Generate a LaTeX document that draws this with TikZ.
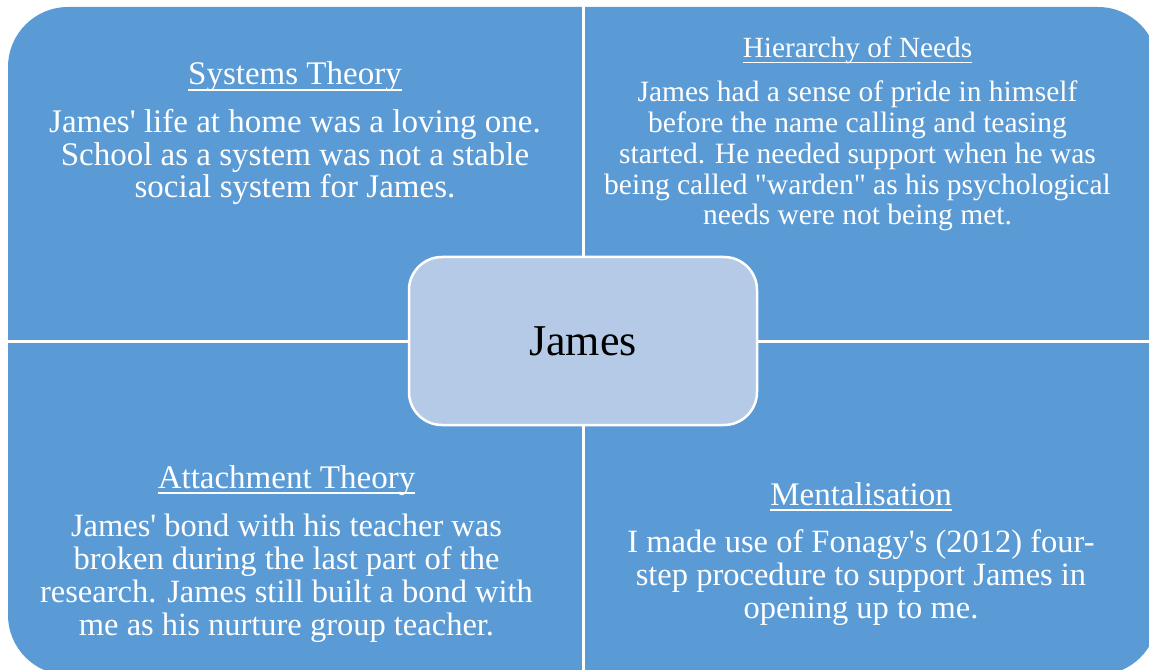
\documentclass[tikz,border=0pt]{standalone}
\usepackage{fontspec}
\setmainfont{Liberation Serif}[Ligatures=TeXOff]
\usetikzlibrary{calc}
\definecolor{tilefill}{RGB}{91,155,213}
\definecolor{hubfill}{RGB}{181,202,231}
\begin{document}
\begin{tikzpicture}[x=1bp,y=-1bp,
  heading/.style={text=white,inner sep=0pt,anchor=base,font=\fontsize{33bp}{33bp}\selectfont},
  % multi-line text is anchored at the baseline of its last line
  bodytext/.style={text=white,inner sep=0pt,anchor=base,align=center},
  rule/.style={white,line width=1.7bp},
  hub/.style={draw=white,line width=2.5bp,fill=hubfill,rounded corners=33bp,
    minimum width=348bp,minimum height=168bp,inner sep=0pt,
    font=\fontsize{44bp}{44bp}\selectfont,text=black}]
\useasboundingbox (0,0) rectangle (1149,670);
\clip (0,0) rectangle (1149,670);

% four-part matrix: one rounded block cut by white separators
\fill[tilefill,rounded corners=60bp] (8,7) rectangle (1158,675);
\draw[white,line width=2.6bp] (583.3,0) -- (583.3,680);
\draw[white,line width=2.6bp] (0,341.5) -- (1160,341.5);

% top left
\node[heading] (t1) at (295,85) {Systems Theory};
\draw[rule] ($(t1.base west)+(0,5)$) -- ($(t1.base east)+(0,5)$);
\node[bodytext,font=\fontsize{33bp}{32.5bp}\selectfont] (b1) at (295,198)
  {James' life at home was a loving one.\\School as a system was not a stable\\social system for James.};

% top right
\node[heading,font=\fontsize{29.3bp}{29.3bp}\selectfont] (t2) at (857.5,58) {Hierarchy of Needs};
\draw[rule] ($(t2.base west)+(0,4.5)$) -- ($(t2.base east)+(0,4.5)$);
\node[bodytext,font=\fontsize{29.5bp}{30.75bp}\selectfont] (b2) at (857.5,225)
  {James had a sense of pride in himself\\before the name calling and teasing\\started. He needed support when he was\\being called "warden" as his psychological\\needs were not being met.};

% bottom left
\node[heading] (t3) at (286.5,488) {Attachment Theory};
\draw[rule] ($(t3.base west)+(0,5)$) -- ($(t3.base east)+(0,5)$);
\node[bodytext,font=\fontsize{32.5bp}{33bp}\selectfont] (b3) at (286.5,635)
  {James' bond with his teacher was\\broken during the last part of the\\research. James still built a bond with\\me as his nurture group teacher.};

% bottom right
\node[heading] (t4) at (861,505) {Mentalisation};
\draw[rule] ($(t4.base west)+(0,5)$) -- ($(t4.base east)+(0,5)$);
\node[bodytext,font=\fontsize{32.5bp}{33bp}\selectfont] (b4) at (861,618)
  {I made use of Fonagy's (2012) four-\\step procedure to support James in\\opening up to me.};

% centre
\node[hub] (james) at (583,341) {James};
\end{tikzpicture}
\end{document}
